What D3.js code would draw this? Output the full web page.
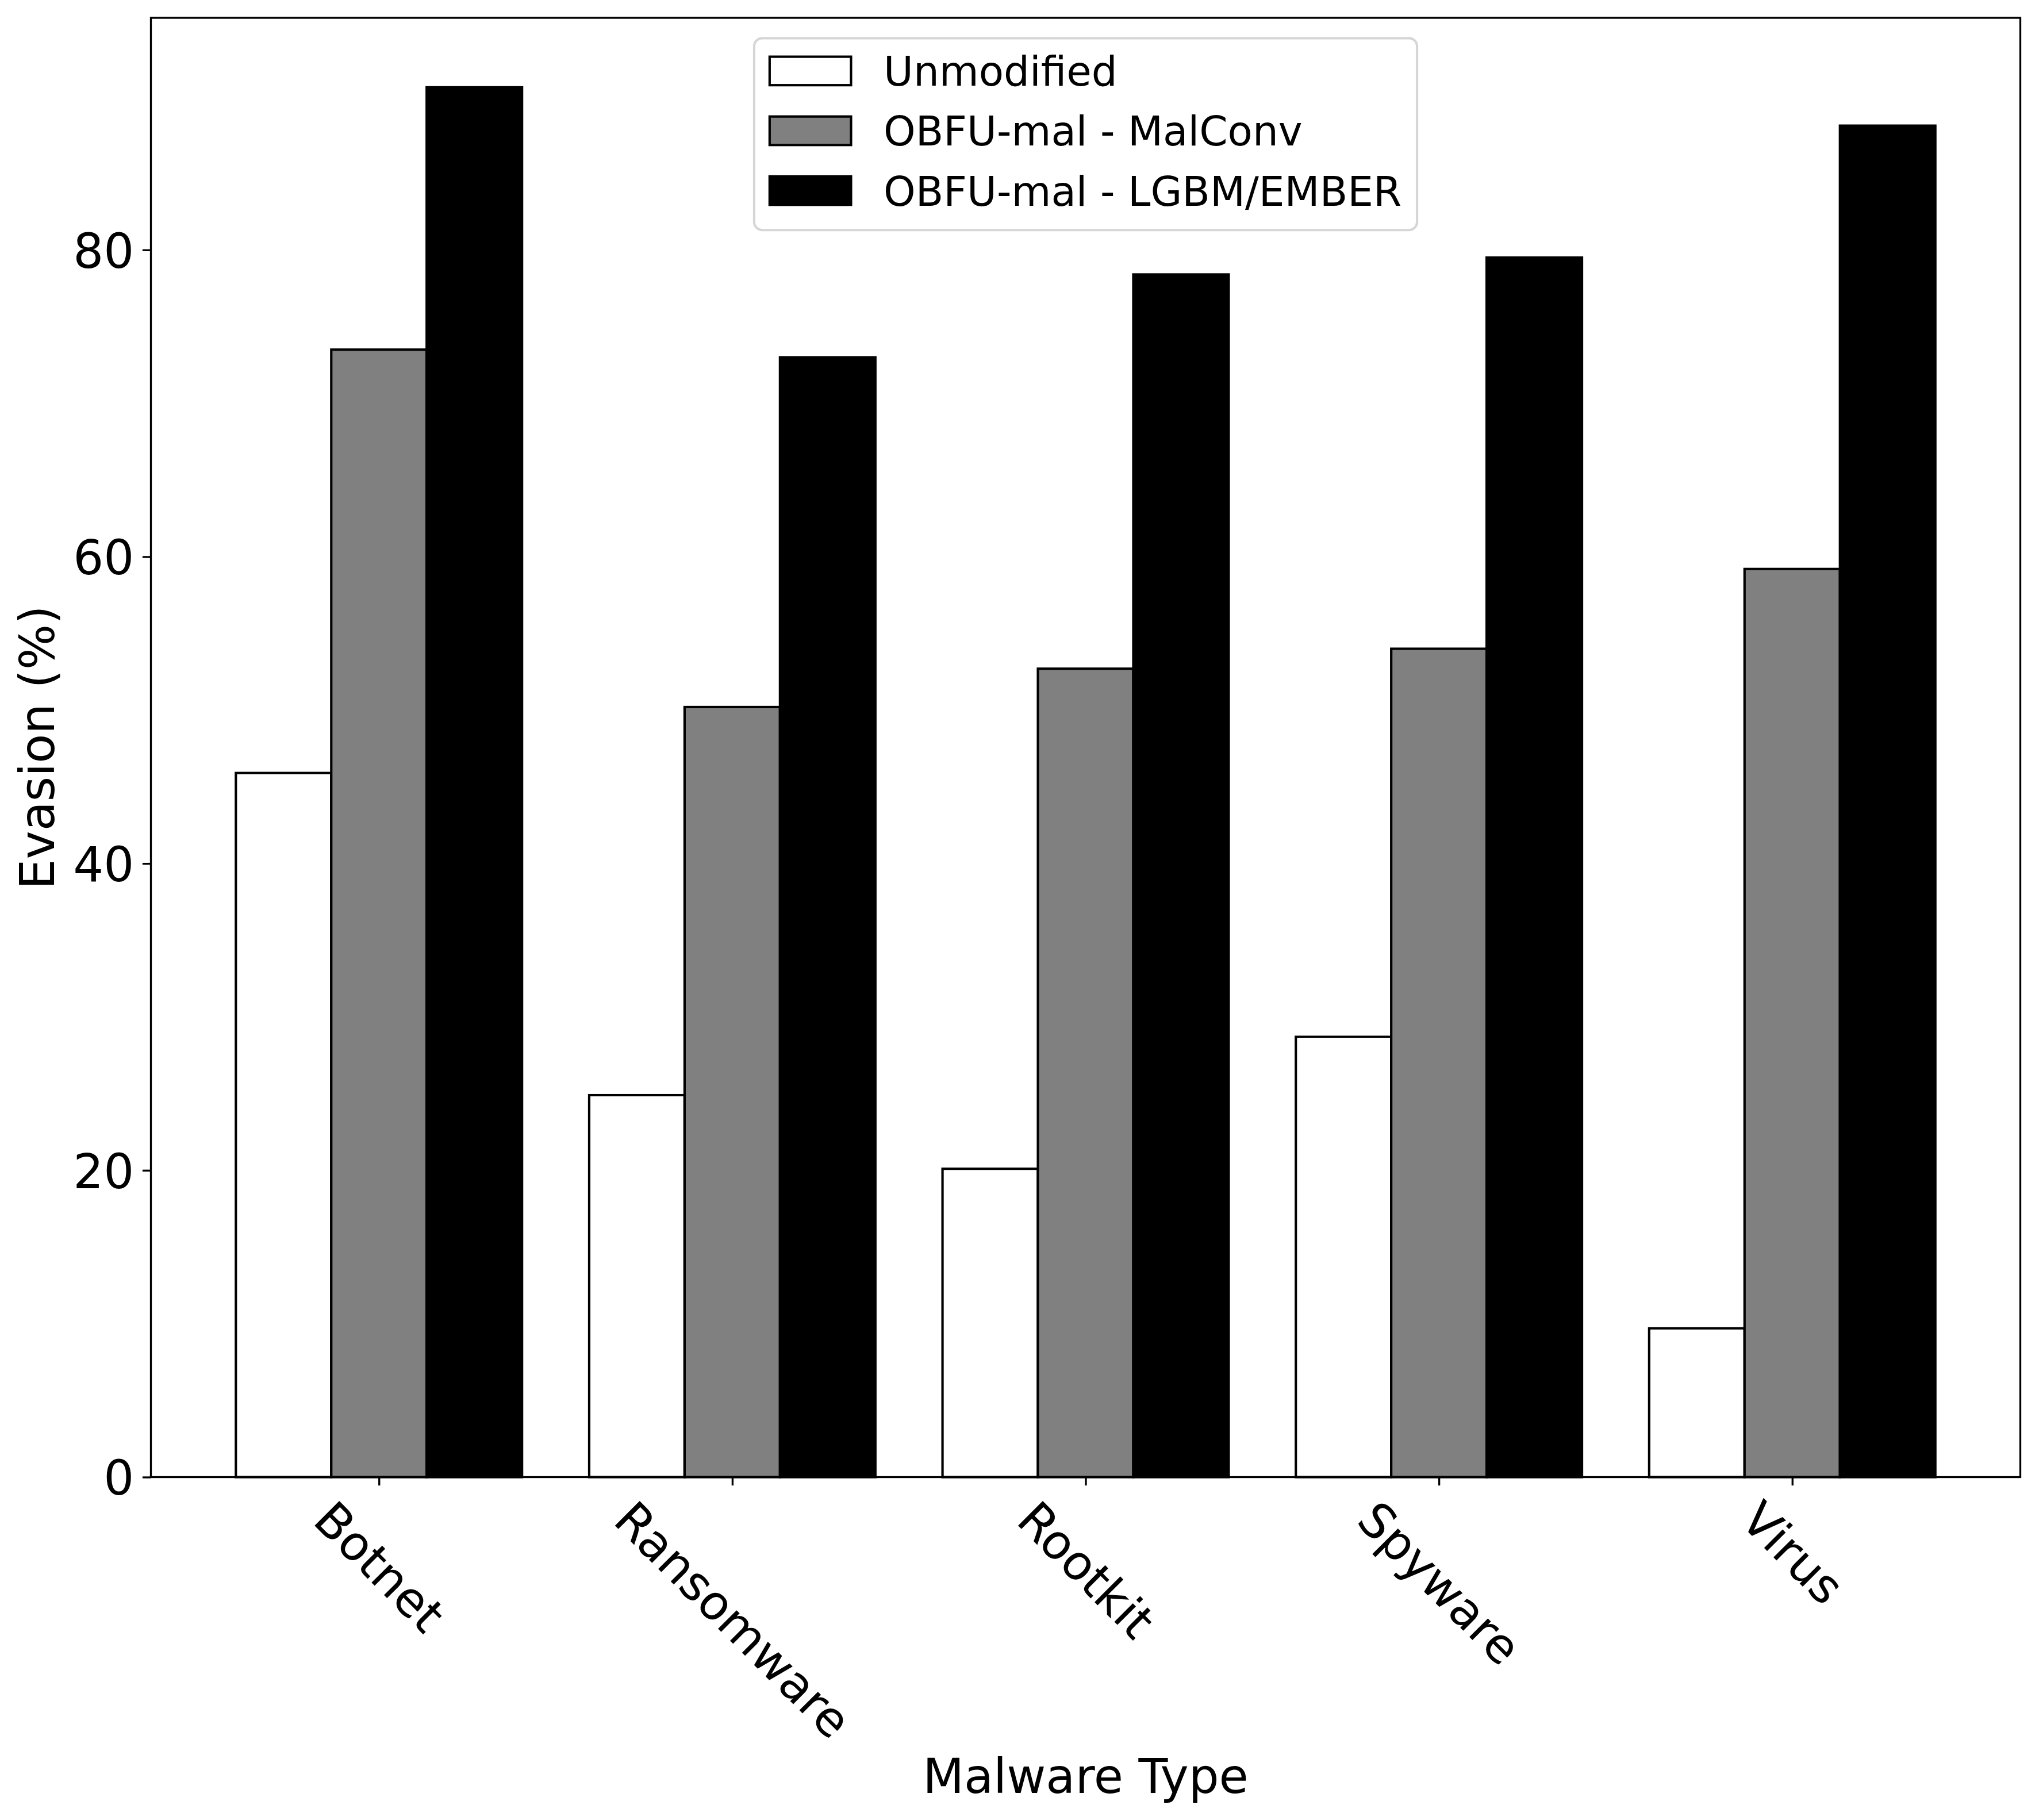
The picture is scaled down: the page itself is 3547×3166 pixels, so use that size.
<!DOCTYPE html>
<html>
<head>
<meta charset="utf-8">
<script src="https://cdn.jsdelivr.net/npm/d3@7"></script>
<style>
	body { margin: 0; background: #fff; }
	text { font-family: "DejaVu Sans", sans-serif; fill: #000; }
</style>
</head>
<body>
<div id="chart"></div>
<script>
var categories = ["Botnet", "Ransomware", "Rootkit", "Spyware", "Virus"];
var seriesNames = ["Unmodified", "OBFU-mal - MalConv", "OBFU-mal - LGBM/EMBER"];
var unmodified = [45.9, 24.9, 20.1, 28.7, 9.7];
var malconv = [73.5, 50.2, 52.7, 54.0, 59.2];
var lgbmEmber = [90.6, 73.0, 78.4, 79.5, 88.1];
var yTicks = [0, 20, 40, 60, 80];
var seriesFill = ["#ffffff", "#808080", "#000000"];

var WIDTH = 3547, HEIGHT = 3166;
var margin = { top: 31, right: WIDTH - 3514.5, bottom: HEIGHT - 2569.5, left: 262.5 };
var plotW = WIDTH - margin.left - margin.right;
var plotH = HEIGHT - margin.top - margin.bottom;

var TICK_FS = 83.3, LABEL_FS = 83.3, LEGEND_FS = 70.8;
var TICK_LEN = 14.6, TICK_PAD = 14.6;
var BAR_W = 0.27;

var series = [unmodified, malconv, lgbmEmber];

// matplotlib-like limits: 5% margin around bars
var half = BAR_W * 1.5;
var lo = -half, hi = categories.length - 1 + half;
var xPad = 0.05 * (hi - lo);

var x = d3.scaleLinear().domain([lo - xPad, hi + xPad]).range([0, plotW]);
var y = d3.scaleLinear()
	.domain([0, d3.max(series, s => d3.max(s)) * 1.05])
	.range([plotH, 0]);

var svg = d3.select("#chart").append("svg")
	.attr("width", WIDTH).attr("height", HEIGHT);

var inner = svg.append("g")
	.attr("transform", `translate(${margin.left},${margin.top})`);

// bars
series.forEach((vals, si) => {
	inner.append("g")
		.selectAll("rect")
		.data(vals)
		.enter()
		.append("rect")
		.attr("x", (d, i) => x(i + (si - 1) * BAR_W - BAR_W / 2))
		.attr("width", x(BAR_W) - x(0))
		.attr("y", d => y(d))
		.attr("height", d => y(0) - y(d))
		.attr("fill", seriesFill[si])
		.attr("stroke", "#000")
		.attr("stroke-width", 4.17);
});

// axes
var yAxisG = inner.append("g")
	.call(d3.axisLeft(y).tickValues(yTicks).tickSizeInner(TICK_LEN).tickSizeOuter(0).tickPadding(TICK_PAD));
yAxisG.select(".domain").remove();
yAxisG.selectAll(".tick line").attr("stroke-width", 3.33);
yAxisG.selectAll(".tick text")
	.attr("font-size", TICK_FS)
	.attr("font-family", "DejaVu Sans")
	.attr("dy", null)
	.attr("dominant-baseline", null)
	.attr("y", TICK_FS * 0.3645);

var xAxisG = inner.append("g")
	.attr("transform", `translate(0,${plotH})`)
	.call(d3.axisBottom(x).tickValues(d3.range(categories.length))
		.tickFormat(i => categories[i])
		.tickSizeInner(TICK_LEN).tickSizeOuter(0).tickPadding(TICK_PAD));
xAxisG.select(".domain").remove();
xAxisG.selectAll(".tick line").attr("stroke-width", 3.33);
xAxisG.selectAll(".tick text")
	.attr("font-size", TICK_FS)
	.attr("font-family", "DejaVu Sans")
	.attr("text-anchor", "middle")
	.attr("dy", null)
	.attr("dominant-baseline", "central")
	.each(function() {
		// rotated label, bbox top just under the tick, centred on it
		var w = this.getComputedTextLength();
		var h = TICK_FS * 1.0;
		var cy = TICK_LEN + TICK_PAD + (w + h) * Math.SQRT1_2 / 2;
		d3.select(this)
			.attr("x", 0).attr("y", 0)
			.attr("transform", `translate(0,${cy}) rotate(45)`);
	});

// frame
inner.append("rect")
	.attr("width", plotW).attr("height", plotH)
	.attr("fill", "none").attr("stroke", "#000").attr("stroke-width", 3.33);

// axis labels
svg.append("text")
	.attr("transform", `translate(94,${margin.top + plotH / 2}) rotate(-90)`)
	.attr("text-anchor", "middle")
	.attr("font-size", LABEL_FS)
	.text("Evasion (%)");

svg.append("text")
	.attr("x", margin.left + plotW / 2)
	.attr("y", 3119)
	.attr("text-anchor", "middle")
	.attr("font-size", LABEL_FS)
	.text("Malware Type");

// legend, upper center
var fs = LEGEND_FS;
var legend = inner.append("g");
var labels = legend.selectAll("text.lbl")
	.data(seriesNames)
	.enter()
	.append("text")
	.attr("class", "lbl")
	.attr("font-size", fs)
	.text(d => d);
var maxW = d3.max(labels.nodes(), n => n.getComputedTextLength());
var handleW = 2.0 * fs, handleH = 0.7 * fs;
var padIn = 0.38 * fs, textGap = 0.8 * fs;
var rowStep = 1.47 * fs;
var firstRow = 0.805 * fs;
var frameW = padIn * 2 + handleW + textGap + maxW;
var frameH = firstRow + rowStep * 2 + 0.97 * fs;
var frameX = plotW / 2 - frameW / 2;
var frameY = 0.5 * fs;

legend.insert("rect", "text")
	.attr("x", frameX).attr("y", frameY)
	.attr("width", frameW).attr("height", frameH)
	.attr("rx", 0.2 * fs).attr("ry", 0.2 * fs)
	.attr("fill", "#fff").attr("fill-opacity", 0.8)
	.attr("stroke", "#d6d6d6").attr("stroke-width", 4.17);

seriesNames.forEach((name, i) => {
	var cy = frameY + firstRow + i * rowStep;
	legend.append("rect")
		.attr("x", frameX + padIn)
		.attr("y", cy - handleH / 2)
		.attr("width", handleW).attr("height", handleH)
		.attr("fill", seriesFill[i])
		.attr("stroke", "#000").attr("stroke-width", 4.17);
});
labels
	.attr("x", frameX + padIn + handleW + textGap)
	.attr("y", (d, i) => frameY + firstRow + i * rowStep + 0.367 * fs);
</script>
</body>
</html>
